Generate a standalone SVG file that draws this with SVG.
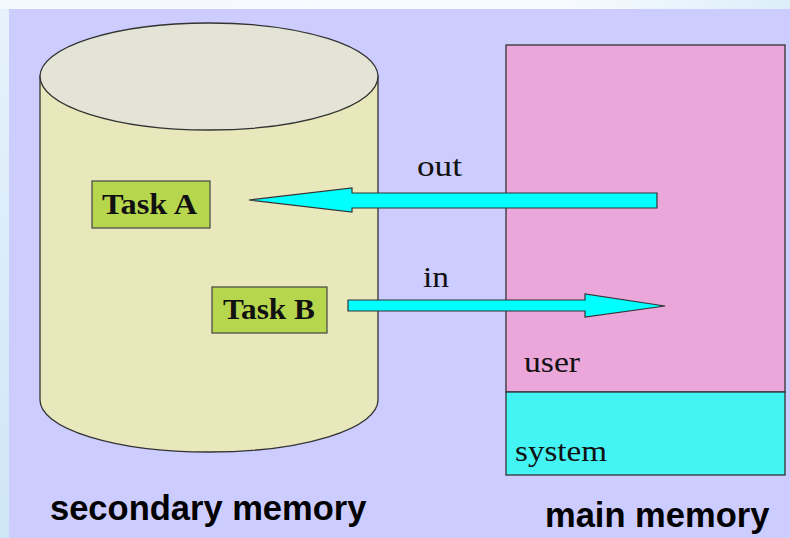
<svg xmlns="http://www.w3.org/2000/svg" width="790" height="538" viewBox="0 0 790 538">
<style>
.lbl{font-family:"Liberation Sans",Arial,sans-serif;font-weight:bold;font-size:34.5px;fill:#000}
.ser{font-family:"Liberation Serif","Times New Roman",serif;font-size:30px;fill:#111}
.task{font-family:"Liberation Serif","Times New Roman",serif;font-weight:bold;font-size:30px;fill:#111}
.edge{stroke:#333;stroke-width:1.3}
.arrow{fill:#00ffff;stroke:#333;stroke-width:1.2;stroke-linejoin:miter}
</style>
<defs>
<linearGradient id="side" x1="0" y1="0" x2="0" y2="1">
<stop offset="0" stop-color="#e6f2fb"/>
<stop offset="1" stop-color="#cfe6f7"/>
</linearGradient>
<linearGradient id="topstrip" x1="0" y1="0" x2="1" y2="0">
<stop offset="0" stop-color="#f4f9fd"/>
<stop offset="0.7" stop-color="#f8fbfe"/>
<stop offset="1" stop-color="#dceefa"/>
</linearGradient>
</defs>
<rect x="0" y="0" width="790" height="538" fill="url(#side)"/>
<rect x="0" y="0" width="790" height="9" fill="url(#topstrip)"/>
<rect x="9" y="9" width="781" height="529" fill="#ccccff"/>

<g id="secondary-memory">
<path d="M40,76 L40,400 A169,52 0 0 0 378,400 L378,76 Z" fill="#e8e8bc" class="edge"/>
<ellipse cx="209" cy="76.5" rx="169" ry="53.5" fill="#e4e4d6" class="edge"/>
<text class="lbl" x="50" y="520">secondary memory</text>
</g>

<g id="task-a">
<rect x="92" y="181" width="118" height="47" fill="#b6d64e" stroke="#444" stroke-width="1.2"/>
<text class="task" x="102" y="214" textLength="95" lengthAdjust="spacingAndGlyphs">Task A</text>
</g>

<g id="task-b">
<rect x="212" y="287" width="115" height="46" fill="#b6d64e" stroke="#444" stroke-width="1.2"/>
<text class="task" x="223" y="319" textLength="92" lengthAdjust="spacingAndGlyphs">Task B</text>
</g>

<g id="main-memory">
<rect x="506" y="45" width="279" height="347" fill="#eba6da" class="edge"/>
<rect x="506" y="392" width="279" height="83" fill="#44f4f4" class="edge"/>
<text class="ser" x="524" y="372" textLength="56" lengthAdjust="spacingAndGlyphs">user</text>
<text class="ser" x="515" y="461" textLength="92" lengthAdjust="spacingAndGlyphs">system</text>
<text class="lbl" x="545" y="527">main memory</text>
</g>

<g id="connectors">
<polygon class="arrow" points="657,193 352,193 352,188 249,200 352,212 352,208 657,208"/>
<text class="ser" x="417" y="176" textLength="45" lengthAdjust="spacingAndGlyphs">out</text>
<polygon class="arrow" points="348,300 585,300 585,294 665,306 585,317 585,311 348,311"/>
<text class="ser" x="423" y="287" textLength="26" lengthAdjust="spacingAndGlyphs">in</text>
</g>
</svg>
